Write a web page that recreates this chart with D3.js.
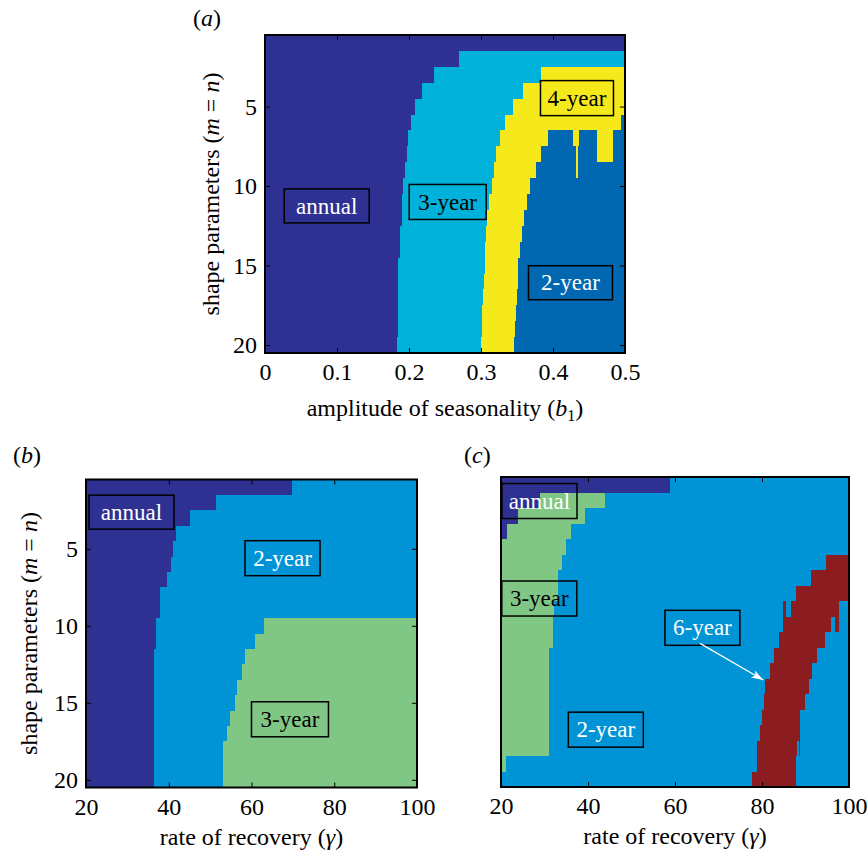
<!DOCTYPE html>
<html>
<head>
<meta charset="utf-8">
<script src="https://cdn.jsdelivr.net/npm/d3@7"></script>
<style>
body { margin: 0; background: #fff; }
svg text { font-family: "Liberation Serif", "Times New Roman", serif; }
</style>
</head>
<body>
<svg id="svg-main" width="867" height="852"></svg>
<script>
// shape parameter m = n, one row each
var rows = d3.range(1, 21);

// (a) amplitude of seasonality b1: where each regime ends, row by row
var aAnnualEnd = [0.5, 0.269, 0.235, 0.2185, 0.208, 0.203, 0.199, 0.197, 0.194, 0.192,
                  0.190, 0.190, 0.1875, 0.1875, 0.185, 0.185, 0.185, 0.185, 0.185, 0.184];
var aThreeEnd = [0.5, 0.5, 0.383, 0.359, 0.345, 0.333, 0.326, 0.321, 0.318, 0.315,
                 0.311, 0.309, 0.307, 0.306, 0.305, 0.304, 0.303, 0.302, 0.301, 0.300];
var aFourEnd = [0.5, 0.5, 0.5, 0.5, 0.5, 0.495, 0.3935, 0.383, 0.376, 0.368,
                0.364, 0.360, 0.357, 0.354, 0.352, 0.351, 0.3495, 0.348, 0.347, 0.346];
// 4-year pockets left inside the 2-year zone
var aPatches = [[7, 0.428, 0.4365, "4-year"], [7, 0.461, 0.484, "4-year"],
                [8, 0.432, 0.435, "4-year"], [8, 0.461, 0.484, "4-year"],
                [9, 0.432, 0.435, "4-year"]];

// (b) rate of recovery gamma
var bAnnualEnd = [69.9, 51.5, 45.1, 41.8, 41.1, 40.5, 39.5, 38.0, 38.0, 36.9,
                  36.9, 36.4, 36.4, 36.4, 36.4, 36.4, 36.4, 36.4, 36.4, 36.4];
var bTwoEnd = [100, 100, 100, 100, 100, 100, 100, 100, 100, 63.0,
               60.8, 58.4, 57.6, 56.4, 56.0, 54.9, 54.0, 53.0, 53.0, 53.0];

// (c) rate of recovery gamma, second parameter set
var cAnnualEnd = [58.9, 29.0, 24.0, 21.3, 20, 20, 20, 20, 20, 20,
                  20, 20, 20, 20, 20, 20, 20, 20, 20, 20];
var cThreeEnd = [58.9, 43.9, 39.2, 36.0, 35.0, 34.0, 33.2, 33.0, 32.2, 32.0,
                 32.0, 31.0, 31.0, 31.0, 31.0, 31.0, 31.0, 31.0, 21.2, 20];
var cSixStart = [100, 100, 100, 100, 100, 94.7, 91.2, 87.8, 84.9, 84.9,
                 83.8, 82.8, 81.8, 80.8, 80.5, 79.9, 79.5, 78.8, 78.8, 77.8];
var cSixEnd = [100, 100, 100, 100, 100, 100, 100, 100, 97.8, 97.8,
               94.5, 92.6, 91.5, 90.7, 89.9, 88.7, 88.7, 88.7, 87.8, 87.8];
var cPatches = [[9, 85.5, 86.6, "2-year"], [10, 95.8, 96.8, "2-year"], [18, 88.0, 88.5, "2-year"]];

var xTicksA = [0, 0.1, 0.2, 0.3, 0.4, 0.5];
var xTicksBC = [20, 40, 60, 80, 100];
var yTicks = [5, 10, 15, 20];

var colA = {"annual": "#2e3192", "3-year": "#00b2da", "4-year": "#f5e91b", "2-year": "#0067b0"};
var colBC = {"annual": "#2e3192", "2-year": "#0094d6", "3-year": "#80c684", "6-year": "#8b1d21"};

var svg = d3.select("#svg-main");

function buildSegments(ends, names, xmin) {
    var segs = [];
    rows.forEach(function(r, i) {
        var x0 = xmin;
        ends.forEach(function(e, k) {
            var x1 = e[i];
            if (x1 > x0) segs.push({row: r, x0: x0, x1: x1, kind: names[k]});
            x0 = Math.max(x0, x1);
        });
    });
    return segs;
}

function panel(o) {
    var g = svg.append("g");
    var x = d3.scaleLinear().domain(o.xdom).range([o.left, o.left + o.w]);
    var y = d3.scaleLinear().domain([0.5, 20.5]).range([o.top, o.top + o.h]);

    var segs = o.segs.concat(o.patches.map(function(p) {
        return {row: p[0], x0: p[1], x1: p[2], kind: p[3]};
    }));
    g.selectAll("rect.cell")
      .data(segs)
      .enter()
      .append("rect")
      .attr("class", "cell")
      .attr("shape-rendering", "crispEdges")
      .attr("x", function(d) { return Math.round(x(d.x0)); })
      .attr("y", function(d) { return Math.round(y(d.row - 0.5)); })
      .attr("width", function(d) { return Math.max(1, Math.round(x(d.x1)) - Math.round(x(d.x0))); })
      .attr("height", function(d) { return Math.round(y(d.row + 0.5)) - Math.round(y(d.row - 0.5)); })
      .attr("fill", function(d) { return o.colors[d.kind]; });

    // ticks pointing inward, matlab style
    g.append("g")
      .attr("transform", "translate(0," + (o.top + o.h) + ")")
      .call(d3.axisBottom(x).tickValues(o.xticks).tickSize(-5).tickSizeOuter(0)
            .tickPadding(10).tickFormat(function(d) { return String(d); }));
    g.append("g")
      .attr("transform", "translate(0," + o.top + ")")
      .call(d3.axisTop(x).tickValues(o.xticks).tickSize(-5).tickSizeOuter(0).tickFormat(""));
    if (o.yaxis) {
        g.append("g")
          .attr("transform", "translate(" + o.left + ",0)")
          .call(d3.axisLeft(y).tickValues(yTicks).tickSize(-5).tickSizeOuter(0).tickPadding(8));
        g.append("g")
          .attr("transform", "translate(" + (o.left + o.w) + ",0)")
          .call(d3.axisRight(y).tickValues(yTicks).tickSize(-5).tickSizeOuter(0).tickFormat(""));
    }
    g.selectAll(".domain").remove();
    g.selectAll(".tick line").attr("stroke", "#000").attr("stroke-width", 1);
    g.selectAll(".tick text").attr("font-size", "24px").attr("fill", "#000");

    g.append("rect")
      .attr("x", o.left)
      .attr("y", o.top)
      .attr("width", o.w)
      .attr("height", o.h)
      .attr("fill", "none")
      .attr("stroke", "#000")
      .attr("stroke-width", 2);

    o.boxes.forEach(function(b) {
        var cx = x(b.x), cy = y(b.y);
        g.append("rect")
          .attr("x", cx - b.w / 2)
          .attr("y", cy - b.h / 2)
          .attr("width", b.w)
          .attr("height", b.h)
          .attr("fill", "none")
          .attr("stroke", "#000")
          .attr("stroke-width", 1.5);
        g.append("text")
          .attr("x", cx)
          .attr("y", cy)
          .attr("dy", "0.33em")
          .attr("text-anchor", "middle")
          .attr("font-size", "23px")
          .attr("fill", b.white ? "#fff" : "#000")
          .text(b.label);
    });

    var xl = g.append("text")
      .attr("x", o.left + o.w / 2)
      .attr("y", o.top + o.h + o.xlabY)
      .attr("text-anchor", "middle")
      .attr("font-size", "24px");
    o.xlabel(xl);

    if (o.ylabel) {
        var yl = g.append("text")
          .attr("transform", "translate(" + (o.left - o.ylabX) + "," + (o.top + o.h / 2) + ") rotate(-90)")
          .attr("text-anchor", "middle")
          .attr("font-size", "24px");
        yl.append("tspan").text("shape parameters (");
        yl.append("tspan").attr("font-style", "italic").text("m");
        yl.append("tspan").text(" = ");
        yl.append("tspan").attr("font-style", "italic").text("n");
        yl.append("tspan").text(")");
    }

    var pl = g.append("text")
      .attr("x", o.tagX)
      .attr("y", o.tagY)
      .attr("font-size", "24px");
    pl.append("tspan").text("(");
    pl.append("tspan").attr("font-style", "italic").text(o.tag);
    pl.append("tspan").text(")");

    return {x: x, y: y, g: g};
}

function gammaLabel(t) {
    t.append("tspan").text("rate of recovery (");
    t.append("tspan").attr("font-style", "italic").text("\u03b3");
    t.append("tspan").text(")");
}

panel({
    left: 265, top: 35, w: 360, h: 318,
    xdom: [0, 0.5], xticks: xTicksA, yaxis: true, colors: colA,
    segs: buildSegments([aAnnualEnd, aThreeEnd, aFourEnd, rows.map(function() { return 0.5; })],
                        ["annual", "3-year", "4-year", "2-year"], 0),
    patches: aPatches,
    boxes: [
        {label: "annual", x: 0.0857, y: 11.25, w: 85, h: 34, white: true},
        {label: "3-year", x: 0.2537, y: 11.0, w: 77, h: 35, white: false},
        {label: "4-year", x: 0.4333, y: 4.47, w: 73, h: 35, white: false},
        {label: "2-year", x: 0.4243, y: 16.08, w: 84, h: 34, white: true}
    ],
    xlabY: 63, ylabX: 46,
    xlabel: function(t) {
        t.append("tspan").text("amplitude of seasonality (");
        t.append("tspan").attr("font-style", "italic").text("b");
        t.append("tspan").attr("font-size", "16px").attr("dy", "5").text("1");
        t.append("tspan").attr("dy", "-5").text(")");
    },
    ylabel: true, tag: "a", tagX: 193, tagY: 26
});

panel({
    left: 86, top: 479.5, w: 331, h: 308,
    xdom: [20, 100], xticks: xTicksBC, yaxis: true, colors: colBC,
    segs: buildSegments([bAnnualEnd, bTwoEnd, rows.map(function() { return 100; })],
                        ["annual", "2-year", "3-year"], 20),
    patches: [],
    boxes: [
        {label: "annual", x: 31.0, y: 2.62, w: 85, h: 34, white: true},
        {label: "2-year", x: 67.5, y: 5.61, w: 75, h: 35, white: true},
        {label: "3-year", x: 69.3, y: 16.07, w: 77, h: 35, white: false}
    ],
    xlabY: 57, ylabX: 49,
    xlabel: gammaLabel,
    ylabel: true, tag: "b", tagX: 13, tagY: 463
});

var pc = panel({
    left: 501, top: 477, w: 348, h: 310,
    xdom: [20, 100], xticks: xTicksBC, yaxis: false, colors: colBC,
    segs: buildSegments([cAnnualEnd, cThreeEnd, cSixStart, cSixEnd, rows.map(function() { return 100; })],
                        ["annual", "3-year", "2-year", "6-year", "2-year"], 20),
    patches: cPatches,
    boxes: [
        {label: "annual", x: 28.85, y: 2.05, w: 75, h: 35, white: true},
        {label: "3-year", x: 28.8, y: 8.34, w: 75, h: 35, white: false},
        {label: "6-year", x: 66.3, y: 10.23, w: 75, h: 35, white: true},
        {label: "2-year", x: 44.1, y: 16.8, w: 75, h: 35, white: true}
    ],
    xlabY: 57,
    xlabel: gammaLabel,
    ylabel: false, tag: "c", tagX: 464, tagY: 463
});

// arrow from the 6-year box to the band
svg.append("defs").append("marker")
  .attr("id", "head")
  .attr("viewBox", "0 0 12 8")
  .attr("refX", 12)
  .attr("refY", 4)
  .attr("markerWidth", 12)
  .attr("markerHeight", 8)
  .attr("markerUnits", "userSpaceOnUse")
  .attr("orient", "auto")
  .append("path")
  .attr("d", "M0,0 L12,4 L0,8 L3,4 z")
  .attr("fill", "#fff");

pc.g.append("line")
  .attr("x1", pc.x(65.75))
  .attr("y1", pc.y(11.23))
  .attr("x2", pc.x(80.3))
  .attr("y2", pc.y(13.6))
  .attr("stroke", "#fff")
  .attr("stroke-width", 1.3)
  .attr("marker-end", "url(#head)");
</script>
</body>
</html>
